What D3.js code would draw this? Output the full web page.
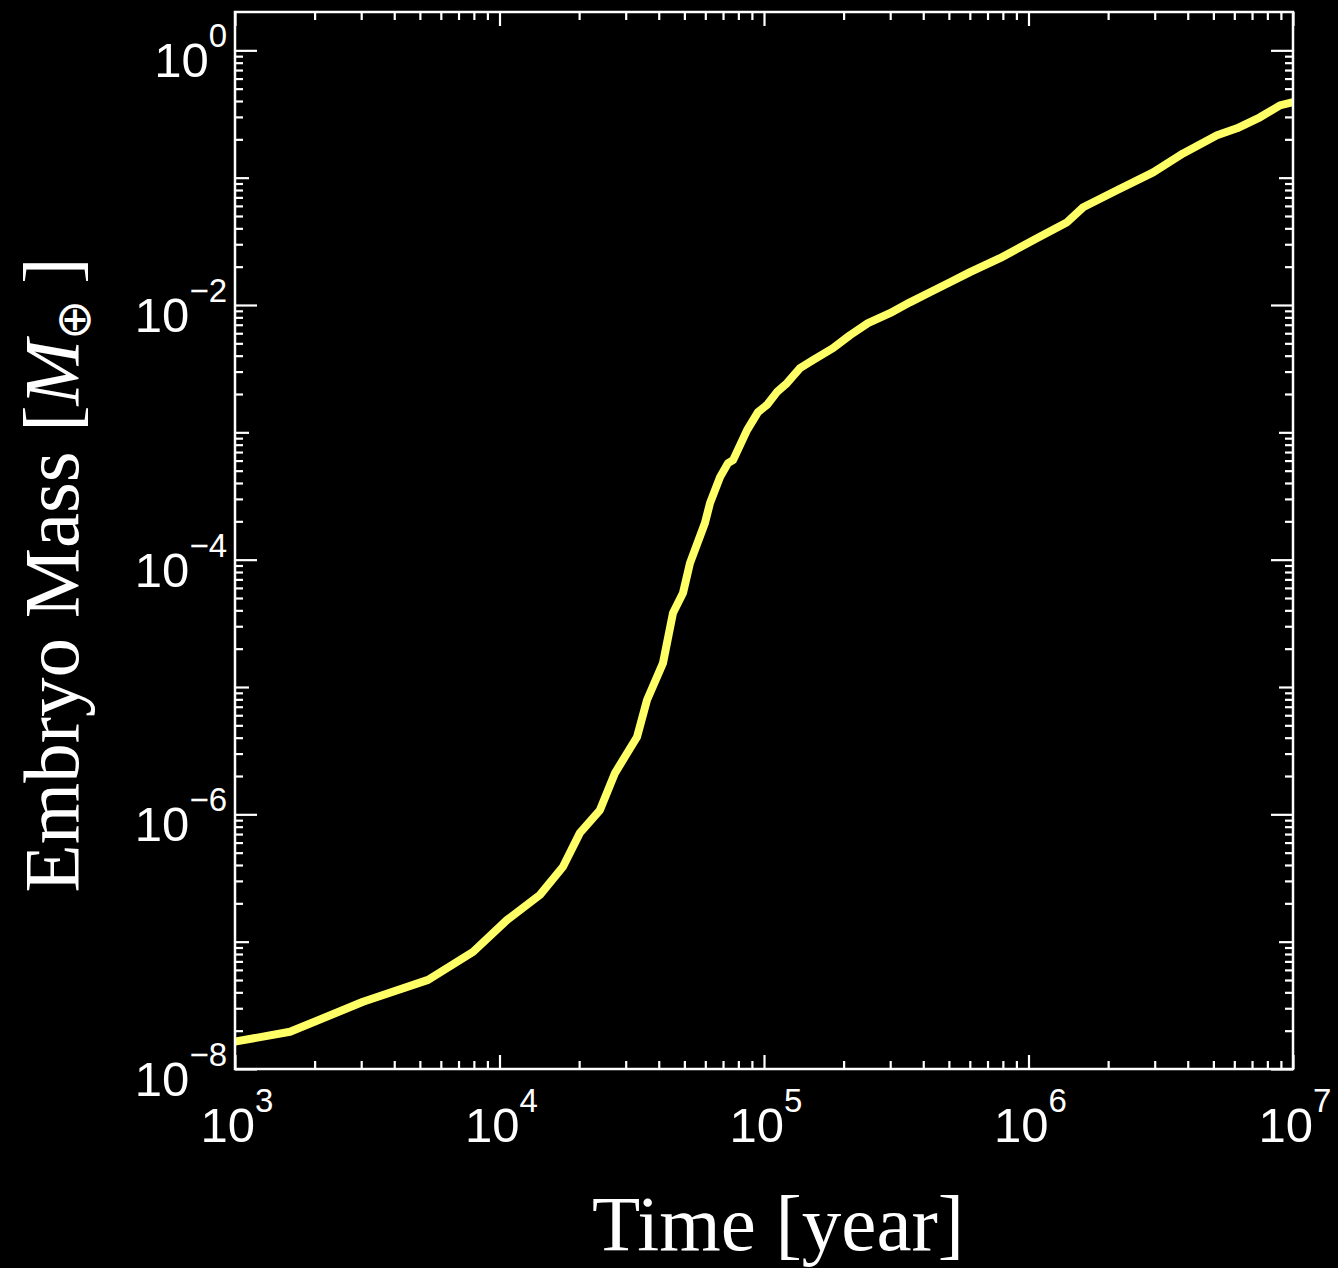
<!DOCTYPE html>
<html>
<head>
<meta charset="utf-8">
<script src="https://cdnjs.cloudflare.com/ajax/libs/d3/7.8.5/d3.min.js"></script>
<style>
  html, body { margin: 0; padding: 0; background: #000; }
  svg { display: block; }
</style>
</head>
<body>
<svg id="chart"></svg>
<script>
// embryo mass growth
const time = [1000, 1614, 3048, 5370, 7943, 10670, 14220, 17380, 20140, 23980,
    27330, 33110, 36120, 41500, 45280, 49400, 52500, 59800, 62500, 68200,
    73100, 76400, 86300, 94900, 102600, 111900, 122100, 136800, 153100, 182300,
    211300, 247200, 299300, 356200, 424300, 505000, 601000, 780000, 1076000, 1400000,
    1610000, 2160000, 2960000, 3840000, 5160000, 6140000, 7500000, 8930000, 10000000]
const mass = [1.64e-8, 1.96e-8, 3.37e-8, 5.01e-8, 8.32e-8, 1.48e-7, 2.33e-7, 3.87e-7, 7.15e-7, 1.08e-6,
    2.11e-6, 4.05e-6, 7.91e-6, 1.54e-5, 3.81e-5, 5.47e-5, 9.40e-5, 1.94e-4, 2.78e-4, 4.45e-4,
    5.73e-4, 6.05e-4, 1.04e-3, 1.44e-3, 1.64e-3, 2.07e-3, 2.43e-3, 3.19e-3, 3.69e-3, 4.58e-3,
    5.79e-3, 7.20e-3, 8.62e-3, 1.05e-2, 1.26e-2, 1.51e-2, 1.81e-2, 2.33e-2, 3.34e-2, 4.47e-2,
    5.86e-2, 7.96e-2, 0.110, 0.155, 0.215, 0.244, 0.298, 0.370, 0.391]

const xDecades = [3, 4, 5, 6, 7]
const yDecades = [-8, -7, -6, -5, -4, -3, -2, -1, 0]
const yLabelled = [-8, -6, -4, -2, 0]

const width = 1338, height = 1268
const margin = {top: 12, right: 45, bottom: 199, left: 235}
const w = width - margin.left - margin.right
const h = height - margin.top - margin.bottom

const svg = d3.select('#chart').attr('width', width).attr('height', height)
svg.append('rect').attr('width', width).attr('height', height).attr('fill', '#000')

const g = svg.append('g').attr('transform', `translate(${margin.left},${margin.top})`)

const x = d3.scaleLog().domain([1e3, 1e7]).range([0, w])
const y = d3.scaleLog().domain([1e-8, 2]).range([h, 0])

// minor ticks: 2..9 x 10^k inside domain
function minors(scale, lo, hi) {
    let out = []
    for (let k = lo; k < hi; k++) {
        for (let m = 2; m <= 9; m++) {
            const v = m * Math.pow(10, k)
            const d = scale.domain()
            if (v > d[0] && v < d[1]) out.push(v)
        }
    }
    return out
}
const xMinor = minors(x, 3, 7)
const yMinor = minors(y, -8, 1)
const xMajor = xDecades.map(d => Math.pow(10, d))
const yOdd = yDecades.filter(d => !yLabelled.includes(d)).map(d => Math.pow(10, d))
const yEven = yLabelled.map(d => Math.pow(10, d))

function tickGroup(axisFn, scale, values, size, transform) {
    const a = g.append('g')
        .attr('transform', transform || null)
        .call(axisFn(scale).tickValues(values).tickSize(-size).tickSizeOuter(0).tickFormat(''))
    a.select('.domain').remove()
    a.selectAll('line').attr('stroke', '#fff').attr('stroke-width', 2.2)
}

// bottom + top
tickGroup(d3.axisBottom, x, xMinor, 8, `translate(0,${h})`)
tickGroup(d3.axisBottom, x, xMajor, 14, `translate(0,${h})`)
tickGroup(d3.axisTop, x, xMinor, 8)
tickGroup(d3.axisTop, x, xMajor, 14)
// left + right
tickGroup(d3.axisLeft, y, yMinor, 8)
tickGroup(d3.axisLeft, y, yOdd, 14)
tickGroup(d3.axisLeft, y, yEven, 22)
tickGroup(d3.axisRight, y, yMinor, 8, `translate(${w},0)`)
tickGroup(d3.axisRight, y, yOdd, 14, `translate(${w},0)`)
tickGroup(d3.axisRight, y, yEven, 22, `translate(${w},0)`)

// curve
g.append('clipPath').attr('id', 'plot-clip')
    .append('rect').attr('width', w).attr('height', h)

const line = d3.line()
    .x(d => x(d[0]))
    .y(d => y(d[1]))
    .curve(d3.curveLinear)

g.append('path')
    .datum(time.map((t, i) => [t, mass[i]]))
    .attr('clip-path', 'url(#plot-clip)')
    .attr('d', line)
    .attr('fill', 'none')
    .attr('stroke', '#ffff66')
    .attr('stroke-width', 8)
    .attr('stroke-linejoin', 'round')

// frame
g.append('rect')
    .attr('width', w).attr('height', h)
    .attr('fill', 'none')
    .attr('stroke', '#fff')
    .attr('stroke-width', 2.5)

// tick labels with superscript exponents
const labelFont = '"Liberation Sans", Arial, Helvetica, sans-serif'

const xLab = g.append('g')
    .attr('font-family', labelFont)
    .attr('fill', '#fff')
    .selectAll('text').data(xDecades).join('text')
    .attr('x', d => x(Math.pow(10, d)) + 2)
    .attr('y', h + 73)
    .attr('text-anchor', 'middle')
    .attr('font-size', 49)
xLab.append('tspan').text('10')
xLab.append('tspan').attr('font-size', 33).attr('dy', -30).text(d => d)

const yLab = g.append('g')
    .attr('font-family', labelFont)
    .attr('fill', '#fff')
    .selectAll('text').data(yLabelled).join('text')
    .attr('x', -8)
    .attr('y', d => y(Math.pow(10, d)) + 27)
    .attr('text-anchor', 'end')
    .attr('font-size', 49)
yLab.append('tspan').text('10')
yLab.append('tspan').attr('font-size', 33).attr('dy', -30)
    .text(d => d < 0 ? '\u2212' + Math.abs(d) : d)

// axis titles
const titleFont = '"Liberation Serif", "Times New Roman", Times, serif'

svg.append('text')
    .attr('x', 778)
    .attr('y', 1250)
    .attr('text-anchor', 'middle')
    .attr('font-family', titleFont)
    .attr('font-size', 79)
    .attr('fill', '#fff')
    .text('Time [year]')

const yt = svg.append('text')
    .attr('transform', 'translate(78,575) rotate(-90)')
    .attr('text-anchor', 'middle')
    .attr('font-family', titleFont)
    .attr('font-size', 79)
    .attr('fill', '#fff')
yt.append('tspan').text('Embryo Mass [')
yt.append('tspan').attr('font-style', 'italic').text('M')
yt.append('tspan').attr('font-size', 48).attr('dy', 12).text('\u2295')
yt.append('tspan').attr('dy', -12).text('\u2009]')
</script>
</body>
</html>
